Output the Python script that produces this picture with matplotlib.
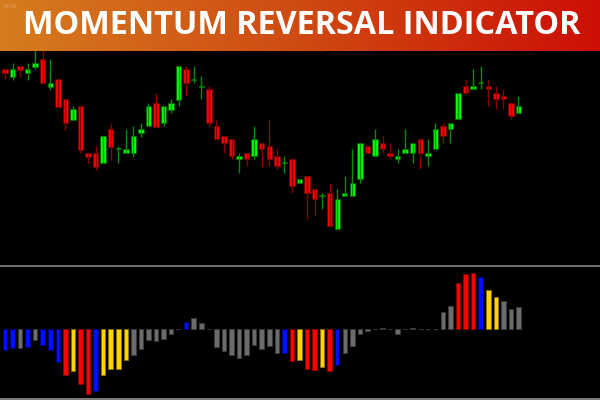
import numpy as np
import matplotlib
matplotlib.use('Agg')
import matplotlib.pyplot as plt
from matplotlib.colors import LinearSegmentedColormap

# candles (price units)
opens = [230.7, 223.3, 234.0, 226.7, 233.3, 240.7, 213.3, 220.7, 200.7, 180.0,
         194.0, 147.3, 147.3, 136.7, 170.7, 150.7, 147.3, 146.7, 166.7, 174.0,
         197.3, 176.7, 190.0, 200.0, 230.7, 220.5, 213.5, 210.7, 174.0, 164.0,
         160.7, 140.7, 147.3, 144.0, 157.3, 154.0, 144.0, 137.2, 140.7, 117.3,
         124.0, 110.7, 103.8, 107.3, 70.7, 104.0, 104.0, 120.7, 154.0, 144.0,
         157.3, 147.3, 140.7, 147.3, 147.3, 160.7, 144.0, 150.7, 174.0, 170.7,
         180.7, 214.0, 210.7, 217.2, 214.0, 207.3, 204.0, 197.3, 187.3]
highs = [230.7, 237.3, 234.0, 237.3, 260.0, 260.0, 240.7, 220.7, 200.7, 194.0,
         194.0, 147.3, 154.0, 164.0, 177.3, 154.0, 170.7, 174.0, 177.3, 197.3,
         207.3, 194.0, 200.7, 234.0, 234.0, 234.0, 224.0, 214.0, 180.7, 164.0,
         160.7, 147.3, 147.3, 174.0, 157.3, 180.7, 150.7, 144.0, 140.7, 120.7,
         124.0, 110.7, 107.3, 117.3, 110.7, 124.0, 150.7, 157.3, 154.0, 170.7,
         164.0, 157.3, 150.7, 170.7, 157.3, 160.7, 160.7, 177.3, 177.3, 177.3,
         207.3, 220.7, 230.7, 234.0, 220.7, 214.0, 210.7, 197.3, 204.0]
lows = [220.7, 220.0, 223.3, 220.0, 230.7, 216.7, 210.0, 193.3, 170.0, 180.0,
        146.7, 136.7, 130.0, 136.7, 140.0, 137.3, 146.7, 143.3, 163.3, 174.0,
        173.3, 174.0, 186.7, 194.0, 204.0, 217.3, 200.7, 174.0, 160.7, 147.3,
        141.0, 127.3, 134.0, 140.7, 134.0, 134.0, 130.7, 127.3, 107.3, 117.3,
        80.7, 84.0, 90.7, 74.0, 70.7, 104.0, 104.0, 117.3, 147.3, 144.0,
        147.3, 140.7, 137.3, 147.3, 137.3, 130.7, 134.0, 150.7, 157.3, 157.3,
        180.7, 207.3, 210.7, 210.7, 194.0, 190.7, 190.7, 180.7, 187.3]
closes = [226.7, 230.7, 230.0, 230.7, 237.3, 216.7, 217.3, 193.3, 176.7, 190.7,
          150.0, 143.3, 133.3, 164.0, 153.3, 151.0, 150.7, 164.0, 170.7, 194.0,
          173.3, 194.0, 197.3, 234.0, 216.7, 220.7, 213.7, 177.3, 160.7, 157.3,
          144.0, 144.0, 140.7, 160.7, 150.7, 140.7, 134.0, 137.3, 114.0, 120.7,
          107.3, 100.7, 104.0, 74.0, 100.7, 107.3, 117.3, 157.3, 147.3, 160.7,
          150.7, 144.0, 144.0, 150.7, 157.3, 147.3, 147.3, 170.7, 164.0, 177.3,
          207.3, 207.3, 214.0, 217.3, 210.7, 200.7, 200.7, 184.0, 194.0]

# momentum histogram
mom = [-21, -18.7, -18.7, -18, -11, -16, -21, -32.7, -46, -42,
       -55, -64.7, -62, -46, -39.7, -40, -31, -26.3, -20, -10.7,
       -11.7, -9.7, -5, 0, 7.3, 10.7, 6, 0, -17.7, -22.3,
       -25.7, -28.7, -25.7, -15.7, -20, -17, -23.7, -24, -31.7, -31,
       -40, -41, -37.7, -42, -35.7, -23.7, -16.7, -5, -1.7, 0,
       0.7, 0, -4.7, 0, 1, 0, -0.3, 0, 16.7, 22.7,
       46, 55, 56, 52, 39.3, 31.7, 28.3, 20.3, 22.3]
state = ['b', 'b', 'g', 'b', 'g', 'b', 'b', 'b', 'r', 'y',
         'r', 'r', 'b', 'y', 'y', 'y', 'y', 'g', 'g', 'g',
         'g', 'g', 'g', 'g', 'b', 'g', 'g', 'g', 'g', 'g',
         'g', 'g', 'g', 'g', 'g', 'g', 'g', 'b', 'r', 'y',
         'r', 'r', 'y', 'r', 'b', 'g', 'g', 'g', 'g', 'g',
         'g', 'g', 'g', 'g', 'g', 'g', 'g', 'g', 'g', 'g',
         'r', 'r', 'r', 'b', 'y', 'y', 'g', 'g', 'g']

fill = {'b': '#0010ff', 'r': '#ff0000', 'y': '#ffd400', 'g': '#6b6b6b'}
edge = {'b': '#00007a', 'r': '#8a0000', 'y': '#8a7000', 'g': '#3a3a3a'}

n = len(opens)
x = np.arange(n)
o = np.array(opens); c = np.array(closes)
up = c >= o

fig = plt.figure(figsize=(6, 4), dpi=100, facecolor='black')

# price panel
ax = fig.add_axes([0, 1 - 265 / 400, 1, 265 / 400])
ax.set_facecolor('black')
ax.vlines(x[up], np.array(lows)[up], np.array(highs)[up], color='#0a8a0a', lw=1)
ax.vlines(x[~up], np.array(lows)[~up], np.array(highs)[~up], color='#8a0000', lw=1)
body = np.maximum(np.abs(c - o), 1.0)
bot = np.minimum(o, c)
ax.bar(x[up], body[up], bottom=bot[up], width=0.72, color='#00ff00',
       edgecolor='#006000', lw=0.6)
ax.bar(x[~up], body[~up], bottom=bot[~up], width=0.72, color='#ff0000',
       edgecolor='#700000', lw=0.6)
ax.set_xlim(-0.66, 78.8)
ax.set_ylim(35, 300)
ax.axis('off')

# title banner
bax = fig.add_axes([0, 1 - 51 / 400, 1, 51 / 400])
cmap = LinearSegmentedColormap.from_list('ban', ['#d67c1e', '#cf4a12', '#cc0f05'])
bax.imshow(np.linspace(0, 1, 256).reshape(1, -1), aspect='auto', cmap=cmap,
           extent=[0, 1, 0, 1])
bax.text(0.502, 0.5, 'MOMENTUM REVERSAL INDICATOR', color='white', fontsize=23.3,
         fontweight='bold', family='Open Sans', ha='center', va='center')
bax.text(0.005, 0.93, '2470', color='#e8a060', fontsize=4, ha='left', va='top')
bax.axis('off')
sax = fig.add_axes([0, 1 - 54 / 400, 1, 3 / 400])
sax.set_facecolor('#2a1405')
sax.axis('off')
sax.patch.set_visible(True)

# separator
fig.add_artist(plt.Line2D([0, 1], [1 - 266.3 / 400] * 2, color='#7a7a7a', lw=1.3))
fig.add_artist(plt.Line2D([0, 1], [0.6 / 400] * 2, color='#8a8a8a', lw=1.3))

# histogram panel
hax = fig.add_axes([0, 0, 1, 133 / 400])
hax.set_facecolor('black')
hax.bar(x, mom, width=0.6, color=[fill[s] for s in state],
        edgecolor=[edge[s] for s in state], lw=0.7)
hax.set_xlim(-0.66, 78.8)
hax.set_ylim(-71, 62)
hax.axis('off')

fig.savefig('out.png', dpi=100, facecolor='black')
